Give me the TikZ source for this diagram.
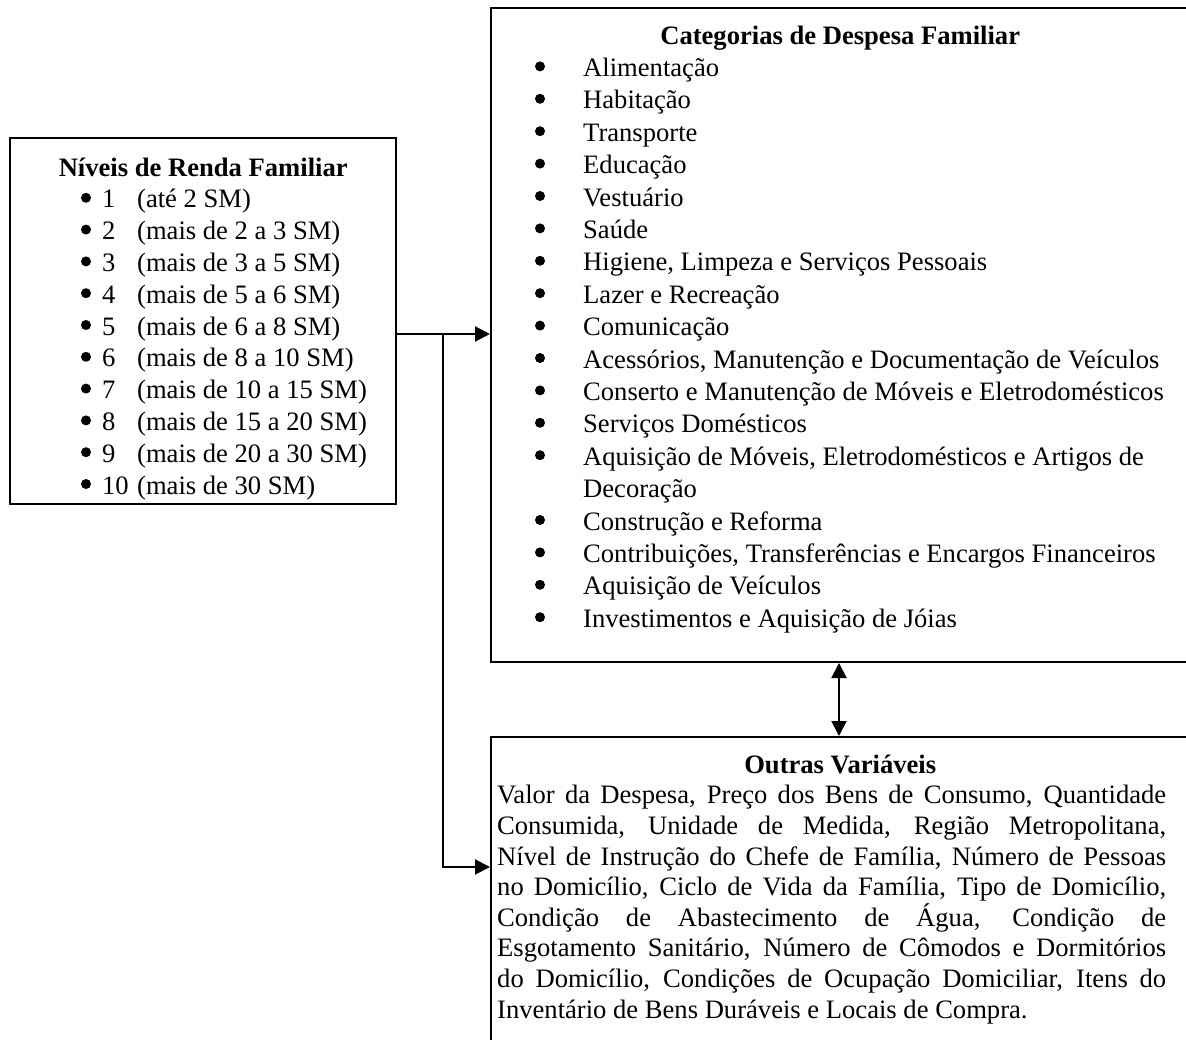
\documentclass[tikz,border=0pt]{standalone}
\usepackage{fontspec}
\setmainfont{Liberation Serif}
\usetikzlibrary{arrows.meta, positioning}
\setlength{\parindent}{0pt}
\newcommand{\nivel}[2]{\hspace*{92pt}\makebox[35pt][l]{#1}#2}
\newcommand{\despesa}[1]{\hspace*{92pt}#1}

\begin{document}
\begin{tikzpicture}[
      x=1pt, y=-1pt,
      caixa/.style={draw, line width=2pt, inner sep=0pt},
      texto/.style={inner sep=0pt, anchor=north west, align=left},
      flow/.style={-{Triangle[length=15pt, width=15pt]}, line width=2pt},
      duplo/.style={{Triangle[length=15pt, width=15pt]}-{Triangle[length=15pt, width=15pt]}, line width=2pt},
    ]
      \useasboundingbox (0,0) rectangle (1186,1040);
      \clip (0,0) rectangle (1186,1040);

      % the three boxes
      \node[caixa, minimum width=386pt, minimum height=366pt] (renda) at (203,321) {};
      \node[caixa, minimum width=709pt, minimum height=654pt] (categ) at (845.5,335) {};
      \node[caixa, minimum width=709pt, minimum height=323pt] (outras) at (845.5,898.5) {};

      \node[texto, font=\fontsize{26.6}{31.8}\selectfont] (rendatxt) at (10,153.7)
        {\strut\makebox[386pt]{\bfseries Níveis de Renda Familiar}\\
         \nivel{1}{(até 2 SM)}\\
         \nivel{2}{(mais de 2 a 3 SM)}\\
         \nivel{3}{(mais de 3 a 5 SM)}\\
         \nivel{4}{(mais de 5 a 6 SM)}\\
         \nivel{5}{(mais de 6 a 8 SM)}\\
         \nivel{6}{(mais de 8 a 10 SM)}\\
         \nivel{7}{(mais de 10 a 15 SM)}\\
         \nivel{8}{(mais de 15 a 20 SM)}\\
         \nivel{9}{(mais de 20 a 30 SM)}\\
         \nivel{10}{(mais de 30 SM)}};

      \node[texto, font=\fontsize{26.6}{32.4}\selectfont] (categtxt) at (491,21.3)
        {\strut\makebox[698pt]{\bfseries Categorias de Despesa Familiar}\\
         \despesa{Alimentação}\\
         \despesa{Habitação}\\
         \despesa{Transporte}\\
         \despesa{Educação}\\
         \despesa{Vestuário}\\
         \despesa{Saúde}\\
         \despesa{Higiene, Limpeza e Serviços Pessoais}\\
         \despesa{Lazer e Recreação}\\
         \despesa{Comunicação}\\
         \despesa{Acessórios, Manutenção e Documentação de Veículos}\\
         \despesa{Conserto e Manutenção de Móveis e Eletrodomésticos}\\
         \despesa{Serviços Domésticos}\\
         \despesa{Aquisição de Móveis, Eletrodomésticos e Artigos de}\\
         \despesa{Decoração}\\
         \despesa{Construção e Reforma}\\
         \despesa{Contribuições, Transferências e Encargos Financeiros}\\
         \despesa{Aquisição de Veículos}\\
         \despesa{Investimentos e Aquisição de Jóias}};

      % list bullets
      \foreach \k in {0,...,9}
        \fill (86,197.8+31.8*\k) circle (5pt);
      \foreach \k in {0,...,12,14,15,16,17}
        \fill (540,66.4+32.4*\k) circle (5pt);

      \node[texto, align=justify, text width=669pt, font=\fontsize{26.6}{30.6}\selectfont] (outrastxt) at (497,751.6)
        {\strut\makebox[669pt]{\hspace{17pt}\bfseries Outras Variáveis}\\
         Valor da Despesa, Preço dos Bens de Consumo, Quantidade\linebreak
         Consumida, Unidade de Medida, Região Metropolitana,\linebreak
         Nível de Instrução do Chefe de Família, Número de Pessoas\linebreak
         no Domicílio, Ciclo de Vida da Família, Tipo de Domicílio,\linebreak
         Condição de Abastecimento de Água, Condição de\linebreak
         Esgotamento Sanitário, Número de Cômodos e Dormitórios\linebreak
         do Domicílio, Condições de Ocupação Domiciliar, Itens do\linebreak
         Inventário de Bens Duráveis e Locais de Compra.};

      % connectors
      \coordinate (juncao) at (443,334);
      \coordinate (desvio) at (443,867);
      \draw[flow] (renda.east |- juncao) -- (categ.west |- juncao);
      \draw[flow] (juncao) -- (desvio) -- (outras.west |- desvio);
      \draw[duplo] ([xshift=-6.5pt]categ.south) -- ([xshift=-6.5pt]outras.north);
    \end{tikzpicture}
\end{document}
